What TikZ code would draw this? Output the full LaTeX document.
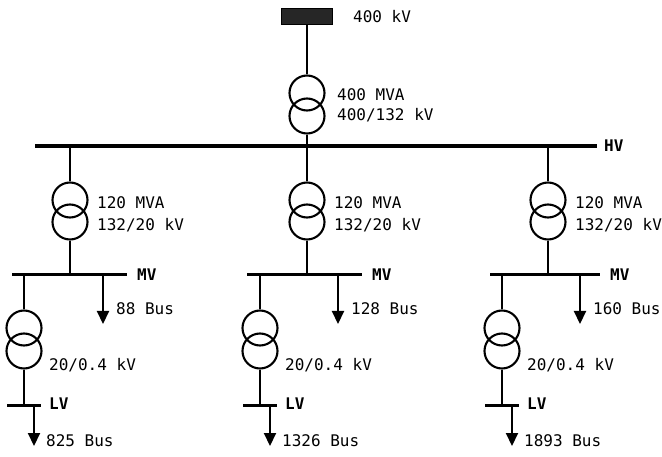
\documentclass[tikz,border=0pt]{standalone}
\usepackage{fontspec}
\setmonofont{DejaVu Sans Mono}
\usetikzlibrary{arrows.meta}
\newcommand{\feeder}[8]{%
  \coordinate (#1hv) at (#2,146);
  \node[winding] (#1ta) at (#2,200) {};
  \node[winding] (#1tb) at (#2,222) {};
  \draw[wire] (#1hv) -- (#1ta.north);
  \node[lbl] at ({#2+27},203) {120 MVA};
  \node[lbl] at ({#2+27},225) {132/20 kV};
  \coordinate (#1mvL) at (#3,275);
  \coordinate (#1mvR) at (#4,275);
  \draw[subbus] (#1mvL) -- (#1mvR);
  \node[blbl] at ({#4+10},275) {MV};
  \draw[wire] (#1tb.south) -- (#1tb.south |- #1mvL);
  \node[winding] (#1la) at (#5,328) {};
  \node[winding] (#1lb) at (#5,351) {};
  \draw[wire] (#1la.north |- #1mvL) -- (#1la.north);
  \node[lbl] at ({#5+25},365) {20/0.4 kV};
  \coordinate (#1lvL) at ({#5-17},405);
  \coordinate (#1lvR) at ({#5+17},405);
  \draw[subbus] (#1lvL) -- (#1lvR);
  \node[blbl] at ({#5+25},404) {LV};
  \draw[wire] (#1lb.south) -- (#1lb.south |- #1lvL);
  \coordinate (#1mvo) at (#6,275);
  \coordinate (#1mve) at (#6,324);
  \draw[load] (#1mvo) -- (#1mve);
  \node[lbl] at ({#6+13},309) {#7};
  \coordinate (#1lvo) at ({#5+10},405);
  \coordinate (#1lve) at ({#5+10},446);
  \draw[load] (#1lvo) -- (#1lve);
  \node[lbl] at ({#5+22},441) {#8};
}
\begin{document}
\begin{tikzpicture}[x=1pt,y=-1pt,
  wire/.style={line width=2.1pt},
  bus/.style={line width=4.5pt},
  subbus/.style={line width=3pt},
  winding/.style={circle,draw,line width=2.1pt,minimum size=35pt,inner sep=0pt},
  lbl/.style={anchor=west,inner sep=0pt,font=\ttfamily\fontsize{16}{18}\selectfont},
  blbl/.style={lbl,font=\ttfamily\bfseries\fontsize{16}{18}\selectfont},
  load/.style={wire,-{Triangle[width=12pt,length=13pt]}}]
\useasboundingbox (0,0) rectangle (662,457);
% source
\node[fill=black!85,draw=black,line width=1pt,minimum width=51pt,minimum height=16pt,inner sep=0pt] (src) at (307,16.5) {};
\node[lbl] at (353,17) {400 kV};
\node[winding] (t0a) at (307,93) {};
\node[winding] (t0b) at (307,116) {};
\draw[wire] (src.south) -- (t0a.north);
\node[lbl] at (337,95) {400 MVA};
\node[lbl] at (337,115) {400/132 kV};
% HV bus
\coordinate (hvL) at (35,146);
\coordinate (hvR) at (597,146);
\draw[bus] (hvL) -- (hvR);
\node[blbl] at (604,146) {HV};
\draw[wire] (t0b.south) -- (t0b.south |- hvL);
% feeders
\feeder{a}{70}{12}{127}{24}{103}{88 Bus}{825 Bus}
\feeder{b}{307}{247}{362}{260}{338}{128 Bus}{1326 Bus}
\feeder{c}{548}{490}{600}{502}{580}{160 Bus}{1893 Bus}
\end{tikzpicture}
\end{document}
